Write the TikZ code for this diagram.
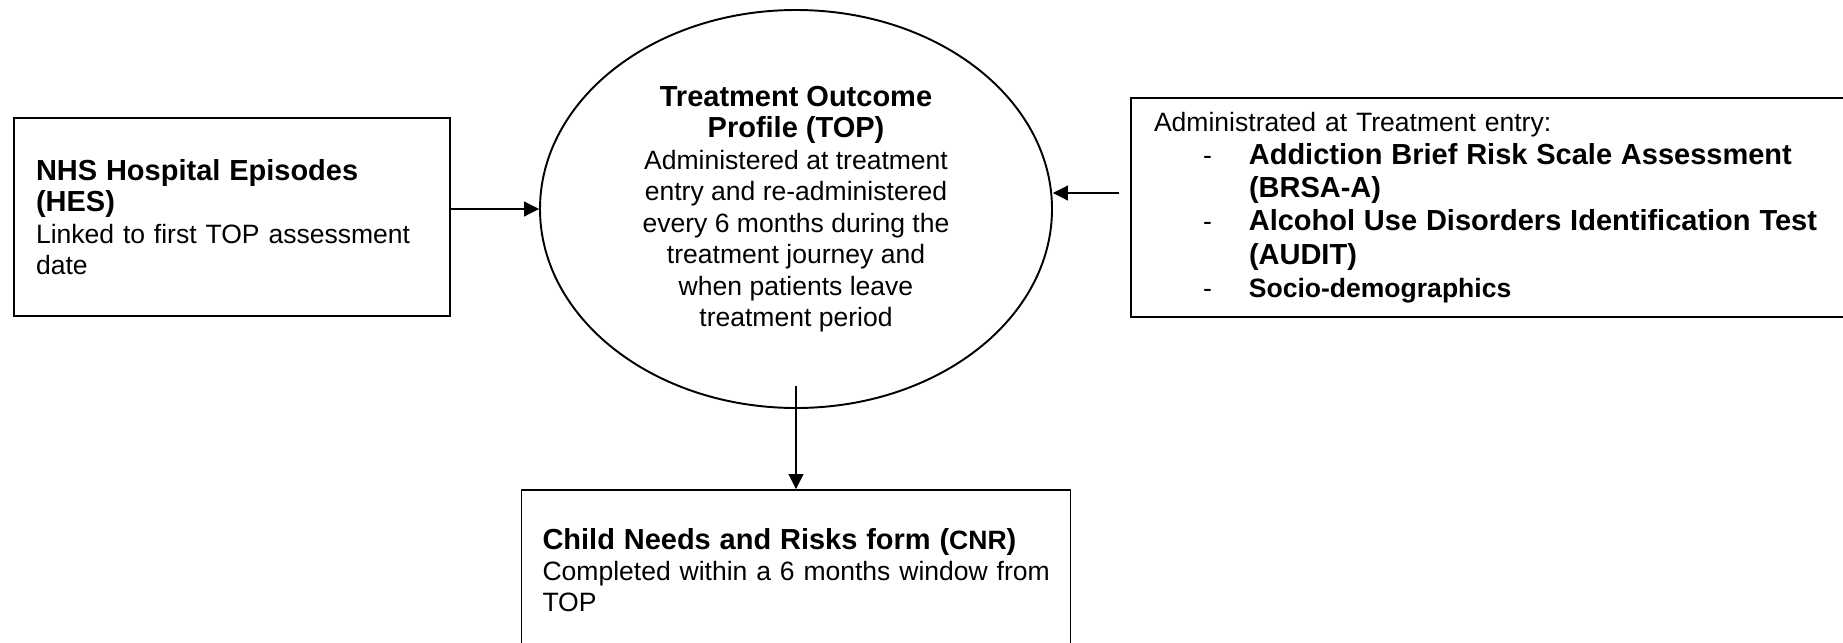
\documentclass[tikz,border=0pt]{standalone}
\usepackage{fontspec}
\setmainfont{Liberation Sans}
\usepackage{tikz}
\usetikzlibrary{shapes.geometric, arrows.meta, positioning}
\newcommand{\hd}[1]{{\fontsize{16.5}{17.9}\selectfont\bfseries #1}}
\tikzstyle{oval} = [ellipse, draw=black, line width=1.1pt, minimum width=10.24cm, minimum height=7.96cm, align=center, inner sep=0pt]
\tikzstyle{infobox} = [rectangle, draw=black, line width=1.1pt, align=left, inner ysep=0pt]
\tikzstyle{arrow} = [line width=0.6pt, ->, >={Triangle[length=0.3cm, width=0.3cm]}]

\begin{document}
\begin{tikzpicture}[node distance=10cm, font=\fontsize{15.1}{17.9}\selectfont]
\useasboundingbox (0,0) rectangle (36.86,-12.84);
\clip (0,0) rectangle (36.86,-12.84);
\node (top) [oval] at (15.92,-4.18) {\hd{Treatment Outcome}\\ \hd{Profile (TOP)}\\ Administered at treatment\\ entry and re-administered\\ every 6 months during the\\ treatment journey and\\ when patients leave\\ treatment period};
\node (hes) [infobox, left of=top, xshift=-1.28cm, yshift=-0.16cm, text width=7.84cm, inner xsep=0.44cm, minimum height=3.96cm] {\hd{NHS Hospital Episodes}\\ \hd{(HES)}\\ \mbox{Linked to first TOP assessment}\\ date};
\node (brsa) [infobox, right of=top, xshift=4.19cm, yshift=0.03cm, text width=14.06cm, inner xsep=0.46cm, minimum height=4.38cm, font=\fontsize{15.1}{18.9}\selectfont] {Administrated at Treatment entry:\\
\hspace*{0.98cm}-\hspace*{0.74cm}\hd{Addiction Brief Risk Scale Assessment}\\
\hspace*{1.9cm}\hd{(BRSA-A)}\\
\hspace*{0.98cm}-\hspace*{0.74cm}\hd{Alcohol Use Disorders Identification Test}\\
\hspace*{1.9cm}\hd{(AUDIT)}\\
\hspace*{0.98cm}-\hspace*{0.74cm}\textbf{Socio-demographics}};
\node (cnr) [infobox, below of=top, yshift=2.28cm, text width=10.14cm, inner xsep=0.42cm, minimum height=4.2cm] {\hd{Child Needs and Risks form (}\textbf{CNR}\hd{)}\\ \mbox{Completed within a 6 months window from}\\ TOP\rule[-1cm]{0pt}{1cm}};

\draw [arrow] (hes.east |- top.west) -- (top.west);
\coordinate (tail) at ([xshift=-0.22cm, yshift=0.29cm]brsa.west);
\draw [arrow] (tail) -- (tail -| top.east);
\draw [arrow] ([yshift=0.46cm]top.south) -- (cnr.north);
\end{tikzpicture}
\end{document}
